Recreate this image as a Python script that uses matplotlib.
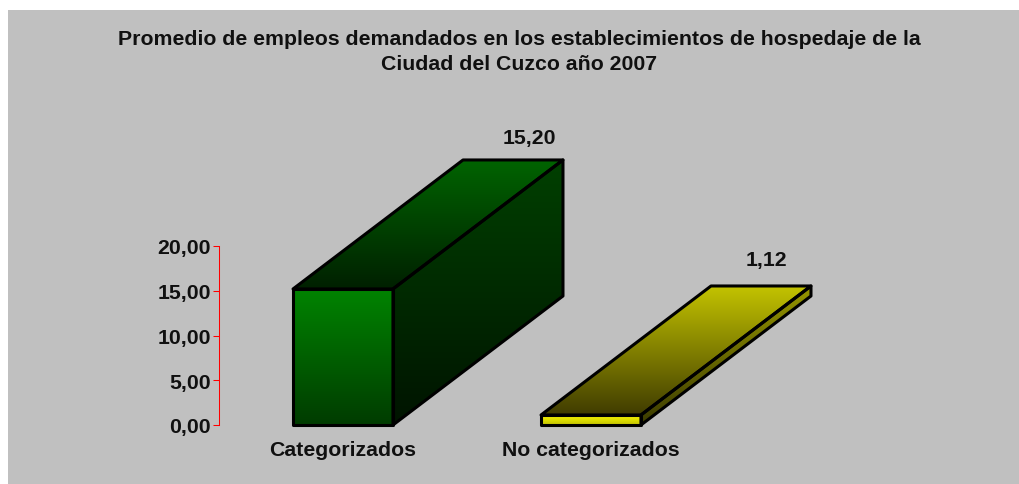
import matplotlib.pyplot as plt
import numpy as np
from matplotlib.patches import Polygon, Rectangle

plt.rcParams['font.family'] = ['Liberation Sans', 'DejaVu Sans']

title = 'Promedio de empleos demandados en los establecimientos de hospedaje de la\nCiudad del Cuzco año 2007'
categories = ['Categorizados', 'No categorizados']
values = [15.20, 1.12]
value_labels = ['15,20', '1,12']
y_ticks = [0, 5, 10, 15, 20]
y_tick_labels = ['0,00', '5,00', '10,00', '15,00', '20,00']

W, H = 1020, 485
BAR_W = 0.403
DX = 170 / 248   # depth of the bars in x units
DY = 129 / 8.95  # depth of the bars in y units
FS = 15.3

# (colour at top of the picture, colour at bottom)
front_colors = [('#008400', '#003c00'), ('#ffff00', '#c0c000')]
top_colors = [('#006400', '#002000'), ('#c4c400', '#403c00')]
side_colors = [('#004000', '#001400'), ('#969600', '#3c3c00')]
label_offsets = [(11.5, 16.5), (3.6, 19.4)]


def gradient_face(ax, pts, colors):
    pts = np.array(pts)
    c1 = np.array(plt.matplotlib.colors.to_rgb(colors[0]))
    c2 = np.array(plt.matplotlib.colors.to_rgb(colors[1]))
    t = np.linspace(0, 1, 256)[:, None, None]
    img = c1[None, None, :] * (1 - t) + c2[None, None, :] * t
    face = Polygon(pts, closed=True, fc='none', ec='k', lw=2.2, joinstyle='round',
                   clip_on=False, zorder=3)
    ax.add_patch(face)
    im = ax.imshow(img, extent=(pts[:, 0].min(), pts[:, 0].max(), pts[:, 1].min(), pts[:, 1].max()),
                   origin='upper', aspect='auto', zorder=2, interpolation='bilinear')
    im.set_clip_path(face)
    im.set_clip_box(ax.figure.bbox)


def draw_bar(ax, i, value):
    x0 = i - BAR_W / 2
    x1 = i + BAR_W / 2
    gradient_face(ax, [(x0, 0), (x1, 0), (x1, value), (x0, value)], front_colors[i])
    gradient_face(ax, [(x0, value), (x1, value), (x1 + DX, value + DY), (x0 + DX, value + DY)], top_colors[i])
    gradient_face(ax, [(x1, 0), (x1 + DX, DY), (x1 + DX, value + DY), (x1, value)], side_colors[i])


fig = plt.figure(figsize=(W / 100, H / 100), dpi=100, facecolor='white')
fig.add_artist(Rectangle((8 / W, 0), 1 - 8 / W, 1 - 11 / H, transform=fig.transFigure,
                         fc='#c0c0c0', ec='none', zorder=-1))

ax = fig.add_axes([219 / W, 1 - 426 / H, 496 / W, 179 / H])
ax.patch.set_visible(False)

for i, value in enumerate(values):
    draw_bar(ax, i, value)
    ax.annotate(value_labels[i], (i + DX, value + DY), xytext=label_offsets[i],
                textcoords='offset points', ha='center', va='center',
                fontsize=FS, fontweight='bold', color='#101010', annotation_clip=False)

ax.set_xlim(-0.5, 1.5)
ax.set_ylim(0, 20)
for s in ['top', 'right', 'bottom']:
    ax.spines[s].set_visible(False)
ax.spines['left'].set_color('#ff0000')
ax.spines['left'].set_linewidth(0.75)
ax.spines['left'].set_snap(True)
ax.set_yticks(y_ticks)
ax.set_yticklabels(y_tick_labels, fontsize=FS, fontweight='bold', color='#101010')
ax.tick_params(axis='y', colors='#ff0000', labelcolor='#101010', length=4, width=0.75, pad=2)
ax.set_xticks(range(len(categories)))
ax.set_xticklabels(categories, fontsize=FS, fontweight='bold', color='#101010')
ax.tick_params(axis='x', length=0, pad=11)

fig.text(519.5 / W, 1 - 52 / H, title, ha='center', va='center', fontsize=FS,
         fontweight='bold', color='#101010', linespacing=1.38)

fig.savefig('out.png', dpi=100)
